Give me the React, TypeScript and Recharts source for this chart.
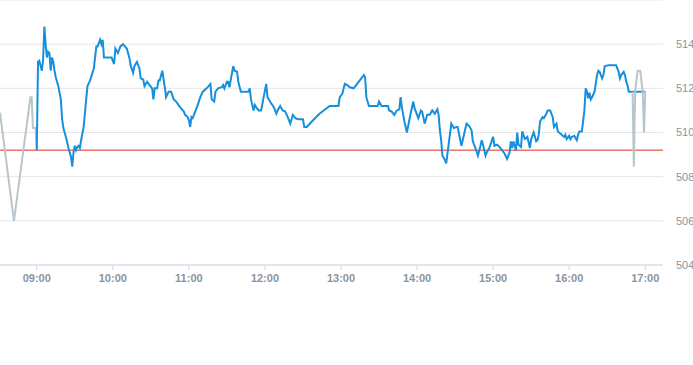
import { LineChart, Line, XAxis, YAxis, CartesianGrid, ReferenceLine } from "recharts";

// pre-market (grey)
const preTimes = ["08:31", "08:42", "08:55", "08:56", "08:57", "08:59", "09:00"];
const prePrices = [510.9, 506.0, 511.6, 511.6, 510.2, 510.2, 509.2];

// regular session (blue)
const sessionTimes = [
    "09:00", "09:01", "09:02", "09:04", "09:05", "09:06", "09:07", "09:08", "09:09", "09:10",
    "09:11", "09:12", "09:13", "09:14", "09:15", "09:17", "09:19", "09:20", "09:21", "09:23",
    "09:25", "09:27", "09:28", "09:29", "09:30", "09:31", "09:32", "09:33", "09:34", "09:35",
    "09:37", "09:39", "09:40", "09:42", "09:45", "09:47", "09:48", "09:50", "09:51", "09:52",
    "09:53", "09:56", "09:59", "10:01", "10:02", "10:04", "10:06", "10:08", "10:11", "10:13",
    "10:14", "10:16", "10:17", "10:19", "10:21", "10:22", "10:24", "10:25", "10:27", "10:29",
    "10:31", "10:32", "10:33", "10:35", "10:36", "10:37", "10:39", "10:41", "10:42", "10:44",
    "10:46", "10:48", "10:50", "10:53", "10:56", "10:57", "10:59", "11:00", "11:01", "11:02",
    "11:03", "11:05", "11:07", "11:09", "11:11", "11:14", "11:17", "11:18", "11:20", "11:21",
    "11:23", "11:26", "11:27", "11:28", "11:30", "11:31", "11:32", "11:34", "11:35", "11:36",
    "11:38", "11:39", "11:41", "11:44", "11:47", "11:48", "11:49", "11:51", "11:52", "11:53",
    "11:55", "11:57", "11:59", "12:01", "12:02", "12:04", "12:07", "12:09", "12:10", "12:12",
    "12:14", "12:16", "12:18", "12:20", "12:22", "12:24", "12:26", "12:30", "12:31", "12:33",
    "12:37", "12:43", "12:51", "12:55", "12:58", "12:59", "13:01", "13:03", "13:05", "13:07",
    "13:10", "13:18", "13:19", "13:20", "13:22", "13:25", "13:29", "13:30", "13:32", "13:35",
    "13:37", "13:38", "13:40", "13:42", "13:44", "13:46", "13:47", "13:48", "13:50", "13:52",
    "13:54", "13:57", "13:58", "14:00", "14:01", "14:03", "14:04", "14:06", "14:08", "14:10",
    "14:12", "14:14", "14:16", "14:17", "14:18", "14:19", "14:20", "14:22", "14:23", "14:25",
    "14:27", "14:29", "14:31", "14:32", "14:35", "14:37", "14:39", "14:41", "14:43", "14:44",
    "14:46", "14:48", "14:50", "14:51", "14:52", "14:54", "14:55", "14:57", "15:00", "15:01",
    "15:03", "15:05", "15:07", "15:09", "15:11", "15:13", "15:14", "15:15", "15:16", "15:18",
    "15:19", "15:20", "15:22", "15:23", "15:25", "15:27", "15:29", "15:30", "15:32", "15:34",
    "15:35", "15:36", "15:37", "15:39", "15:40", "15:42", "15:43", "15:45", "15:47", "15:48",
    "15:50", "15:51", "15:53", "15:54", "15:56", "15:57", "15:58", "16:00", "16:01", "16:02",
    "16:04", "16:06", "16:07", "16:08", "16:10", "16:12", "16:13", "16:14", "16:15", "16:16",
    "16:17", "16:18", "16:20", "16:22", "16:23", "16:24", "16:26", "16:27", "16:28", "16:31",
    "16:35", "16:37", "16:39", "16:40", "16:41", "16:43", "16:44", "16:45", "16:46", "16:47",
    "16:50", "17:00",
];
const sessionPrices = [
    509.2, 513.2, 513.25, 512.8, 513.3, 514.8, 514.0, 513.4, 513.65, 513.6,
    512.8, 513.4, 513.2, 512.8, 512.5, 512.1, 511.5, 510.6, 510.2, 509.8,
    509.3, 508.9, 508.45, 509.1, 509.4, 509.2, 509.35, 509.4, 509.3, 509.65,
    510.25, 511.5, 512.1, 512.35, 512.9, 513.9, 513.9, 514.2, 514.0, 514.2,
    513.4, 513.4, 513.4, 513.1, 513.8, 513.6, 513.9, 514.0, 513.8, 513.4,
    513.05, 512.7, 513.0, 513.2, 512.9, 512.45, 512.4, 512.1, 512.3, 512.15,
    512.0, 511.5, 512.0, 512.0, 512.35, 512.35, 512.8, 512.05, 511.6, 511.85,
    511.85, 511.5, 511.4, 511.15, 510.95, 510.8, 510.7, 510.55, 510.25, 510.7,
    510.65, 510.95, 511.25, 511.6, 511.85, 512.0, 512.2, 511.5, 511.4, 511.85,
    512.0, 512.05, 512.15, 512.0, 512.3, 512.3, 512.05, 512.7, 513.0, 512.8,
    512.75, 512.3, 511.85, 511.85, 511.85, 512.0, 511.5, 511.0, 511.25, 511.15,
    511.0, 511.0, 511.6, 512.2, 511.6, 511.4, 511.15, 510.85, 511.0, 511.2,
    511.0, 510.95, 510.7, 510.4, 510.8, 510.65, 510.6, 510.6, 510.25, 510.25,
    510.5, 510.85, 511.2, 511.2, 511.2, 511.6, 511.75, 512.2, 512.15, 512.05,
    512.0, 512.6, 512.5, 511.6, 511.2, 511.2, 511.2, 511.4, 511.2, 511.2,
    511.2, 511.0, 510.95, 510.8, 511.0, 511.05, 511.6, 511.15, 510.5, 510.0,
    510.6, 511.4, 511.1, 510.8, 510.65, 511.0, 510.95, 510.4, 510.8, 510.8,
    511.0, 510.85, 511.05, 510.8, 510.1, 509.65, 508.95, 508.75, 508.6, 509.5,
    510.4, 510.2, 510.25, 510.25, 509.4, 509.9, 510.4, 510.3, 510.1, 509.6,
    509.3, 508.95, 509.4, 509.65, 509.45, 508.95, 509.1, 509.3, 509.8, 509.4,
    509.45, 509.35, 509.2, 509.05, 508.8, 509.1, 509.6, 509.3, 509.6, 509.2,
    510.0, 509.45, 509.35, 510.05, 509.7, 509.8, 509.3, 509.7, 510.0, 509.6,
    509.65, 509.9, 510.5, 510.7, 510.65, 510.85, 511.0, 511.0, 510.7, 510.25,
    510.4, 510.05, 509.95, 509.9, 509.8, 509.9, 509.7, 509.85, 509.7, 509.8,
    509.85, 509.65, 509.9, 510.05, 510.05, 511.0, 512.0, 511.85, 511.55, 511.8,
    511.5, 511.6, 511.85, 512.6, 512.8, 512.75, 512.45, 512.6, 513.0, 513.05,
    513.05, 513.05, 512.75, 512.45, 512.6, 512.75, 512.6, 512.3, 512.15, 511.85,
    511.85, 511.85,
];

// after-hours (grey)
const postTimes = ["16:50", "16:51", "16:52", "16:54", "16:56", "16:58", "16:59", "17:00"];
const postPrices = [511.85, 508.45, 511.85, 512.8, 512.8, 511.85, 510.0, 511.85];

const previousClose = 509.2;
const priceTicks = [504, 506, 508, 510, 512, 514];
const hourTicks = ["09:00", "10:00", "11:00", "12:00", "13:00", "14:00", "15:00", "16:00", "17:00"];

const toMin = (s: string) => {
    const [h, m] = s.split(":").map(Number);
    return h * 60 + m;
};
const fmt = (v: number) => {
    const h = Math.floor(v / 60);
    const m = Math.round(v % 60);
    return `${String(h).padStart(2, "0")}:${String(m).padStart(2, "0")}`;
};
const build = (times: string[], prices: number[]) =>
    times.map((t, i) => ({ t: toMin(t), price: prices[i] }));

const preData = build(preTimes, prePrices);
const sessionData = build(sessionTimes, sessionPrices);
const postData = build(postTimes, postPrices);

export default function App() {
    return (
        <div style={{ position: "absolute", left: 0, top: 0, background: "#fff" }}>
            <LineChart width={693} height={365} margin={{ top: 0, right: 0, bottom: 70, left: 0 }}>
                <CartesianGrid vertical={false} stroke="#e6e6e6" />
                <XAxis
                    dataKey="t"
                    type="number"
                    domain={[511, 1034]}
                    ticks={hourTicks.map(toMin)}
                    tickFormatter={fmt}
                    height={30}
                    stroke="#ccd6eb"
                    tickSize={5}
                    tickMargin={4}
                    tick={{ fill: "#8a94a0", fontSize: 11, fontWeight: 700, fontFamily: "Liberation Sans, Arial, sans-serif" }}
                    allowDataOverflow
                />
                <YAxis
                    orientation="right"
                    width={30}
                    domain={[504, 516]}
                    ticks={priceTicks}
                    axisLine={false}
                    tickLine={false}
                    tickMargin={7}
                    tick={{ fill: "#8a94a0", fontSize: 11, fontFamily: "Liberation Sans, Arial, sans-serif" }}
                    allowDataOverflow
                />
                <ReferenceLine y={previousClose} stroke="#d7302a" strokeWidth={1} />
                <Line
                    data={preData}
                    dataKey="price"
                    stroke="#b9c5cd"
                    strokeWidth={2}
                    dot={false}
                    activeDot={false}
                    type="linear"
                    isAnimationActive={false}
                />
                <Line
                    data={sessionData}
                    dataKey="price"
                    stroke="#168fdc"
                    strokeWidth={2}
                    dot={false}
                    activeDot={false}
                    type="linear"
                    isAnimationActive={false}
                />
                <Line
                    data={postData}
                    dataKey="price"
                    stroke="#b9c5cd"
                    strokeWidth={2}
                    dot={false}
                    activeDot={false}
                    type="linear"
                    isAnimationActive={false}
                />
            </LineChart>
        </div>
    );
}
